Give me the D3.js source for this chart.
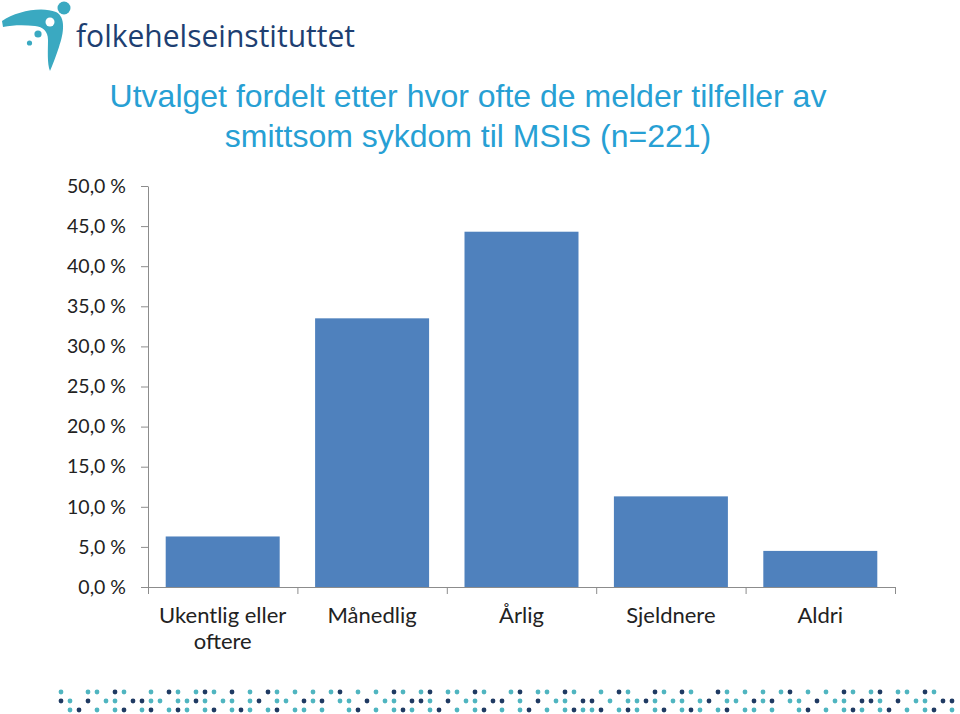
<!DOCTYPE html>
<html>
<head>
<meta charset="utf-8">
<script src="https://cdn.jsdelivr.net/npm/d3@7/dist/d3.min.js"></script>
<style>
  body { margin: 0; background: #fff; }
  svg { display: block; }
  .axis path, .axis line { stroke: #8c8c8c; }
</style>
</head>
<body>
<div id="chart"></div>
<script>
// chart data
const categories = ['Ukentlig eller oftere', 'Månedlig', 'Årlig', 'Sjeldnere', 'Aldri'];
const labelLines = [['Ukentlig eller', 'oftere'], ['Månedlig'], ['Årlig'], ['Sjeldnere'], ['Aldri']];
const shares = [6.3, 33.5, 44.3, 11.3, 4.5];
const yTicks = [0, 5, 10, 15, 20, 25, 30, 35, 40, 45, 50];
const yTickLabels = ['0,0 %', '5,0 %', '10,0 %', '15,0 %', '20,0 %', '25,0 %', '30,0 %', '35,0 %', '40,0 %', '45,0 %', '50,0 %'];
const titleLines = ['Utvalget fordelt etter hvor ofte de melder tilfeller av', 'smittsom sykdom til MSIS (n=221)'];

// footer dot pattern: a = teal, n = navy, . = empty
const dotRows = [
    'a..aa.na..a.na.ana.n.a.na' + '.a.a.an.a.a.na.an.aa.na..' + 'an.aa.na..a.na..na.na..na' + '.a.a.an.a.a.na.an.aa.na..',
    'na.n.aa.nnaa.aana.aa.an.a' + 'a.nan.aa.n.aa.nna.n.aa.nn' + '.a.n.aa.nn.a.aana.aa.an.a' + 'a.nan.aa.n.aa.nna.n.aa.nn',
    '.an.a.an.an.ana.an.ana.an' + '.aa.a..an.a.ana.an.a.an.a' + '.an.a.anaan.ana.an.ana.an' + '.aa.a..an.a.ana.an.a.an.a',
];

const W = 960;
const H = 714;
const margin = { top: 186, right: 65, bottom: 127, left: 148 };
const width = W - margin.left - margin.right;
const height = H - margin.top - margin.bottom;

const svg = d3.select('#chart')
    .append('svg')
    .attr('width', W)
    .attr('height', H);

// logo
const logo = svg.append('g').attr('class', 'logo');
logo.append('path')
    .attr('d', 'M2,21 C16,11 42,6 56,12 C66,17 64,33 59,47 C56,56 53,64 50,71 C47,64 48,50 48,40 C48,31 43,27 35,26 C24,25 13,25 3,27 Z')
    .attr('fill', '#3aa9c1');
logo.append('circle').attr('cx', 50).attr('cy', 22).attr('r', 4.5).attr('fill', '#fff');
logo.append('circle').attr('cx', 64).attr('cy', 8).attr('r', 6.5).attr('fill', '#3aa9c1');
logo.append('circle').attr('cx', 38).attr('cy', 34).attr('r', 3.6).attr('fill', '#3aa9c1');
logo.append('circle').attr('cx', 29.5).attr('cy', 43).attr('r', 2.6).attr('fill', '#3aa9c1');
logo.append('text')
    .attr('x', 76)
    .attr('y', 47)
    .attr('textLength', 279)
    .attr('lengthAdjust', 'spacingAndGlyphs')
    .style('font-family', '"Open Sans", sans-serif')
    .style('font-size', '31px')
    .style('fill', '#1e3f72')
    .text('folkehelseinstituttet');

// title
svg.append('g')
    .selectAll('text')
    .data(titleLines)
    .enter()
    .append('text')
    .attr('x', 468)
    .attr('y', (d, i) => 107 + i * 40)
    .attr('text-anchor', 'middle')
    .style('font-family', '"Liberation Sans", Arial, sans-serif')
    .style('font-size', '32px')
    .style('fill', '#27a0d4')
    .text((d) => d);

const g = svg.append('g')
    .attr('transform', `translate(${margin.left}, ${margin.top})`);

const x = d3.scaleBand()
    .domain(categories)
    .range([0, width])
    .paddingInner(0.237)
    .paddingOuter(0.1185);

const y = d3.scaleLinear()
    .domain([0, 50])
    .range([height, 0]);

// y axis
g.append('g')
    .attr('class', 'axis y-axis')
    .call(d3.axisLeft(y)
        .tickValues(yTicks)
        .tickFormat((d, i) => yTickLabels[i])
        .tickSize(7)
        .tickPadding(15)
        .tickSizeOuter(0))
    .call((ax) => ax.selectAll('text')
        .style('font-family', 'Lato, sans-serif')
        .style('font-size', '19.5px')
        .style('fill', '#222'));

// bars
g.append('g')
    .selectAll('.bar')
    .data(shares)
    .enter()
    .append('rect')
    .attr('class', 'bar')
    .attr('x', (d, i) => x(categories[i]))
    .attr('y', (d) => y(d))
    .attr('width', x.bandwidth())
    .attr('height', (d) => height - y(d))
    .attr('fill', '#4f81bd');

// x axis with ticks at category boundaries
const xb = d3.scaleLinear().domain([0, categories.length]).range([0, width]);
g.append('g')
    .attr('class', 'axis x-axis')
    .attr('transform', `translate(0, ${height})`)
    .call(d3.axisBottom(xb)
        .tickValues(d3.range(categories.length + 1))
        .tickFormat('')
        .tickSize(7)
        .tickSizeOuter(0));

// category labels
const labels = g.append('g')
    .selectAll('.x-label')
    .data(labelLines)
    .enter()
    .append('text')
    .attr('class', 'x-label')
    .attr('text-anchor', 'middle')
    .style('font-family', 'Lato, sans-serif')
    .style('font-size', '22px')
    .style('fill', '#222');
labels.selectAll('tspan')
    .data((d, i) => d.map((line) => ({ line, cx: x(categories[i]) + x.bandwidth() / 2 })))
    .enter()
    .append('tspan')
    .attr('x', (d) => d.cx)
    .attr('y', (d, j) => height + 36 + j * 26)
    .text((d) => d.line);

// footer dots
const dotX = d3.scaleLinear().domain([0, 1]).range([61, 70]);
const dotY = d3.scaleLinear().domain([0, 1]).range([692, 701]);
const dots = [];
dotRows.forEach((row, r) => {
    row.split('').forEach((c, k) => {
        if (c !== '.') dots.push({ r, k, c });
    });
});
svg.append('g')
    .selectAll('circle')
    .data(dots)
    .enter()
    .append('circle')
    .attr('cx', (d) => dotX(d.k))
    .attr('cy', (d) => dotY(d.r))
    .attr('r', 2.4)
    .attr('fill', (d) => (d.c === 'a' ? '#4fb5c0' : '#1f3a62'));
</script>
</body>
</html>
